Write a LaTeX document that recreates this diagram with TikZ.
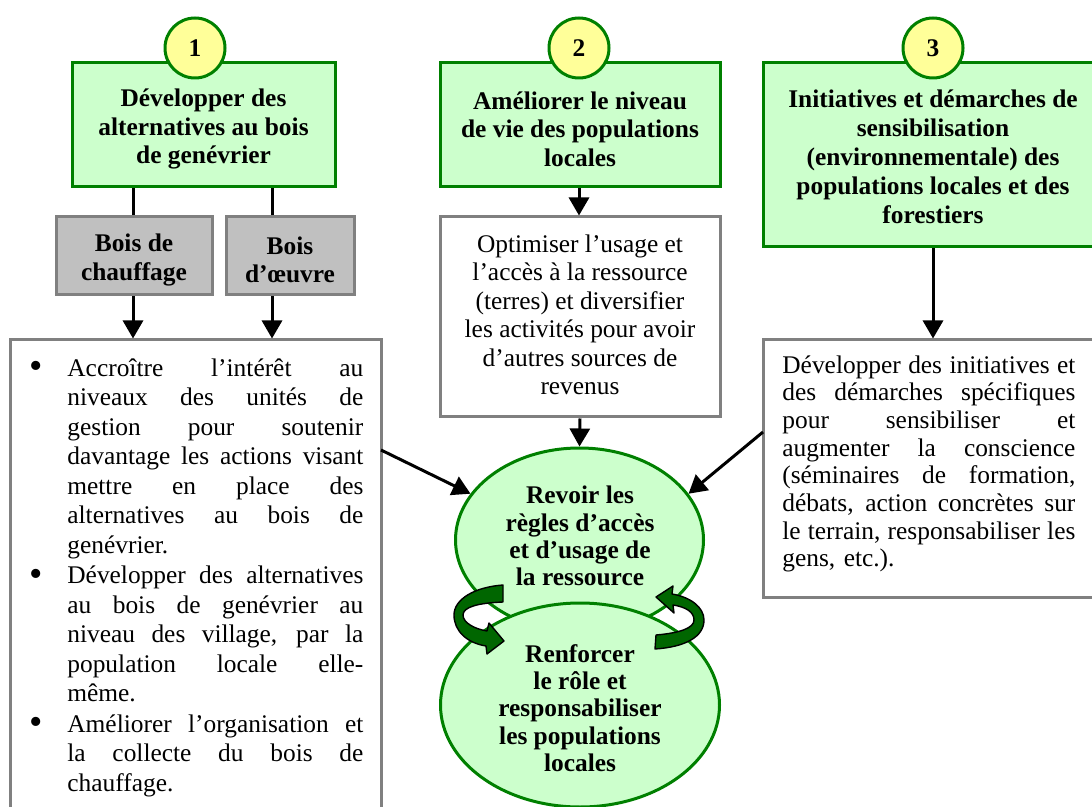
\documentclass[tikz,border=0pt]{standalone}
\usepackage{fontspec}
\setmainfont{Liberation Serif}
\usetikzlibrary{arrows.meta,shapes.geometric}
\definecolor{lgreen}{HTML}{CCFFCC}
\definecolor{dgreen}{HTML}{008000}
\definecolor{lyellow}{HTML}{FFFF99}
\definecolor{gfill}{HTML}{C0C0C0}
\definecolor{gline}{HTML}{808080}
\definecolor{loopgreen}{HTML}{006600}
\newcommand\jl[1]{\makebox[148pt][s]{\spaceskip=0.25em plus 1fil\relax #1}}
\newcommand\jr[1]{\makebox[146.5pt][s]{\spaceskip=0.25em plus 1fil\relax #1}}
\newcommand\bl{\makebox[19pt][l]{\raisebox{-1.2pt}{\scalebox{1.5}{\textbullet}}}}
\newcommand\nb{\hspace*{19pt}}
\begin{document}
\begin{tikzpicture}[x=0.5pt,y=-0.5pt,
  greenbox/.style={draw=dgreen, fill=lgreen, line width=1.5pt, rectangle, inner sep=0pt},
  graybox/.style={draw=gline, fill=gfill, line width=1.5pt, rectangle, inner sep=0pt},
  whitebox/.style={draw=gline, fill=white, line width=1.5pt, rectangle, inner sep=0pt},
  boldtext/.style={align=center, inner sep=0pt, yshift=-2pt, font=\fontsize{12.7}{14.2}\selectfont\bfseries},
  plaintext/.style={align=center, inner sep=0pt, yshift=1pt, font=\fontsize{12.7}{14.25}\selectfont},
  numcirc/.style={circle, draw=dgreen, fill=lyellow, line width=1.5pt, minimum size=30pt, inner sep=0pt,
    font=\fontsize{12.7}{14}\selectfont\bfseries},
  oval/.style={ellipse, draw=dgreen, fill=lgreen, line width=1.5pt, inner sep=0pt},
  ovaltext/.style={align=center, inner sep=0pt, font=\fontsize{12.7}{13.6}\selectfont\bfseries},
  conn/.style={line width=1.5pt, -{Triangle[length=9pt,width=10pt]}},
  plainconn/.style={line width=1.5pt},
  loop/.style={fill=loopgreen, draw=black, line width=0.7pt, line join=round}]
\useasboundingbox (0,0) rectangle (1092,807);
\clip (0,0) rectangle (1092,807);

% column 1
\node[greenbox, minimum width=131.5pt, minimum height=62pt] (b1) at (203.5,125) {};
\node[boldtext] (b1t) at (b1.center) {Développer des\\alternatives au bois\\de genévrier};
\node[numcirc] (c1) at (195,48) {1};
\node[graybox, minimum width=78pt, minimum height=39pt] (g1) at (134,256) {};
\node[boldtext] (g1t) at (g1.center) {Bois de\\chauffage};
\node[graybox, minimum width=64pt, minimum height=39pt] (g2) at (290,256) {};
\node[boldtext] (g2t) at (g2.center) {Bois\\d’œuvre};
\coordinate (k1) at (133,256);
\coordinate (k2) at (272,256);
\node[whitebox, minimum width=185.5pt, minimum height=245pt] (L) at (195.5,585) {};
\node[anchor=north west, inner sep=0pt, text width=170pt, align=left,
  font=\fontsize{12.7}{14.75}\selectfont] (Lt) at (29,358) {%
\bl\jl{Accroître l’intérêt au}\\
\nb\jl{niveaux des unités de}\\
\nb\jl{gestion pour soutenir}\\
\nb\jl{davantage les actions visant}\\
\nb\jl{mettre en place des}\\
\nb\jl{alternatives au bois de}\\
\nb genévrier.\\[0.6pt]
\bl\jl{Développer des alternatives}\\
\nb\jl{au bois de genévrier au}\\
\nb\jl{niveau des village, par la}\\
\nb\jl{population locale elle-}\\
\nb même.\\[0.6pt]
\bl\jl{Améliorer l’organisation et}\\
\nb\jl{la collecte du bois de}\\
\nb chauffage.};

% column 2
\node[greenbox, minimum width=140pt, minimum height=62pt] (b2) at (580,125) {};
\node[boldtext] (b2t) at (b2.center) {Améliorer le niveau\\de vie des populations\\locales};
\node[numcirc] (c2) at (579,48) {2};
\node[whitebox, minimum width=140pt, minimum height=100pt] (w2) at (580,317) {};
\node[plaintext] (w2t) at (w2.center)
  {Optimiser l’usage et\\l’accès à la ressource\\(terres) et diversifier\\les activités pour avoir\\d’autres sources de\\revenus};

% column 3
\node[greenbox, minimum width=168.5pt, minimum height=92pt] (b3) at (931.5,155) {};
\node[boldtext, font=\fontsize{12.7}{14.45}\selectfont\bfseries] (b3t) at (933,153)
  {Initiatives et démarches de\\sensibilisation\\(environnementale) des\\populations locales et des\\forestiers};
\node[numcirc] (c3) at (933,48) {3};
\coordinate (k3) at (933,300);
\node[whitebox, minimum width=168.5pt, minimum height=128.5pt] (R) at (931.5,468.5) {};
\node[anchor=north west, inner sep=0pt, text width=150pt, align=left,
  font=\fontsize{12.7}{13.85}\selectfont] (Rt) at (782,355) {%
\jr{Développer des initiatives et}\\
\jr{des démarches spécifiques}\\
\jr{pour sensibiliser et}\\
\jr{augmenter la conscience}\\
\jr{(séminaires de formation,}\\
\jr{débats, action concrètes sur}\\
\jr{le terrain, responsabiliser les}\\
gens, etc.).};

% ovals
\node[oval, minimum width=124pt, minimum height=92pt] (E1) at (579.5,540) {};
\node[oval, minimum width=139.5pt, minimum height=102pt] (E2) at (580,705) {};
\node[ovaltext] (E1t) at (580,536) {Revoir les\\règles d’accès\\et d’usage de\\la ressource};
\node[ovaltext] (E2t) at (580,708) {Renforcer\\le rôle et\\responsabiliser\\les populations\\locales};

% connectors
\draw[plainconn] (k1 |- b1.south) -- (k1 |- g1.north);
\draw[plainconn] (k2 |- b1.south) -- (k2 |- g2.north);
\draw[conn] (k1 |- g1.south) -- (k1 |- L.north);
\draw[conn] (k2 |- g2.south) -- (k2 |- L.north);
\draw[conn] (b2.south -| c2) -- (w2.north -| c2);
\draw[conn] (w2.south) -- (E1.north);
\draw[conn] (k3 |- b3.south) -- (k3 |- R.north);
\coordinate (s1) at (381,450);
\coordinate (s2) at (763,432);
\draw[conn] (s1) -- (E1.157);
\draw[conn] (s2) -- (E1.23);

% cycle arrows
\filldraw[loop] (503,585) -- (503,602) .. controls (478,603) and (463,607) .. (463,615)
  .. controls (463,623) and (475,629) .. (487,631) -- (489,623) -- (504,641) -- (487,654) -- (486,646)
  .. controls (467,643) and (454,631) .. (454,615) .. controls (454,599) and (475,587) .. (503,585) -- cycle;
\filldraw[loop] (656,635) .. controls (680,633) and (694,628) .. (694,620)
  .. controls (694,612) and (686,607) .. (673,605) -- (674,613) -- (656,597) -- (673,586) -- (672,594)
  .. controls (690,597) and (704,607) .. (704,620) .. controls (704,637) and (685,647) .. (655,649) -- cycle;
\end{tikzpicture}
\end{document}
